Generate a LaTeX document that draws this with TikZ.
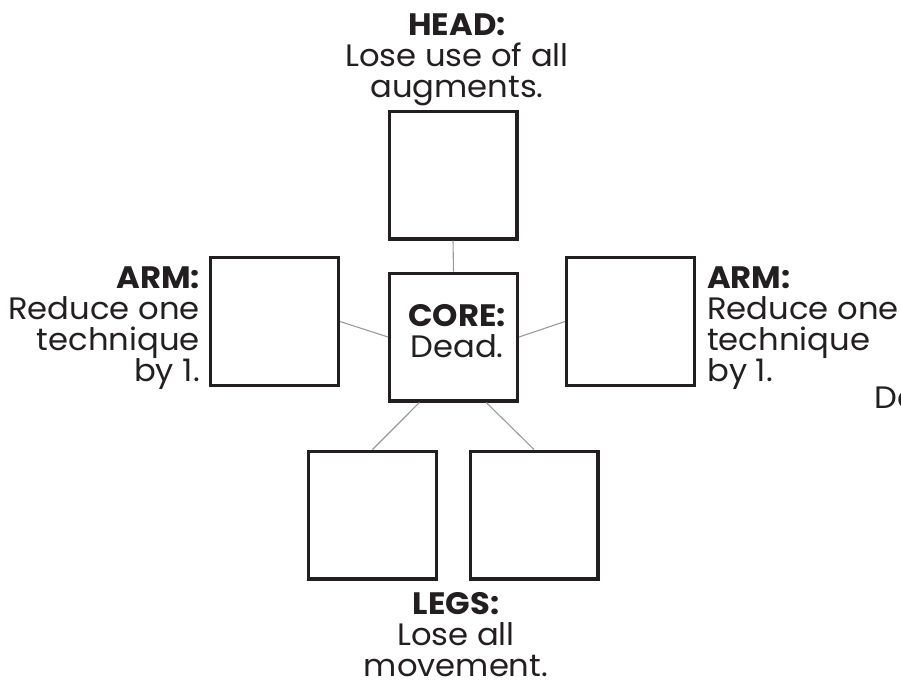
\documentclass[tikz,border=0pt]{standalone}
\usepackage{fontspec}
\setmainfont[FakeStretch=1.04]{Poppins}
\usetikzlibrary{calc}
\definecolor{ink}{HTML}{231F20}
\definecolor{wirec}{HTML}{9A9A9A}
\begin{document}
\begin{tikzpicture}[x=1pt,y=-1pt,
  box/.style={draw=ink, line width=3.4pt, minimum width=127.6pt, minimum height=127.6pt, inner sep=0pt},
  wire/.style={draw=wirec, line width=1.1pt},
  lbl/.style={text=ink, font=\fontsize{31}{31}\selectfont, inner sep=0pt, align=center}]
\useasboundingbox (0,0) rectangle (901,681);
\node[box] (head) at (453,175) {};
\node[box] (core) at (453.5,337) {};
\node[box] (larm) at (274.5,321.5) {};
\node[box] (rarm) at (630.5,321.5) {};
\node[box] (lleg) at (372.5,515) {};
\node[box] (rleg) at (534,515) {};
\draw[wire] (head.south) -- (core.north);
\draw[wire] (larm.east) -- (core.west);
\draw[wire] (core.east) -- (rarm.west);
\draw[wire] ($(core.south west)!0.24!(core.south east)$) -- (lleg.north);
\draw[wire] ($(core.south west)!0.75!(core.south east)$) -- (rleg.north);
\node[lbl, anchor=base] (headtxt) at (457,97) {\textbf{HEAD:}\\Lose use of all\\augments.};
\node[lbl, align=right, anchor=base east] (larmtxt) at (200,381) {\textbf{ARM:}\\Reduce one\\technique\\by 1.};
\node[lbl, align=left, anchor=base west] (rarmtxt) at (707,381) {\textbf{ARM:}\\Reduce one\\technique\\by 1.};
\node[lbl, anchor=base] (coretxt) at (457,357) {\textbf{CORE:}\\Dead.};
\node[lbl, anchor=base] (legstxt) at (456,676) {\textbf{LEGS:}\\Lose all\\movement.};
\node[lbl, anchor=base west] (edgetxt) at (874,408) {De};
\end{tikzpicture}
\end{document}
